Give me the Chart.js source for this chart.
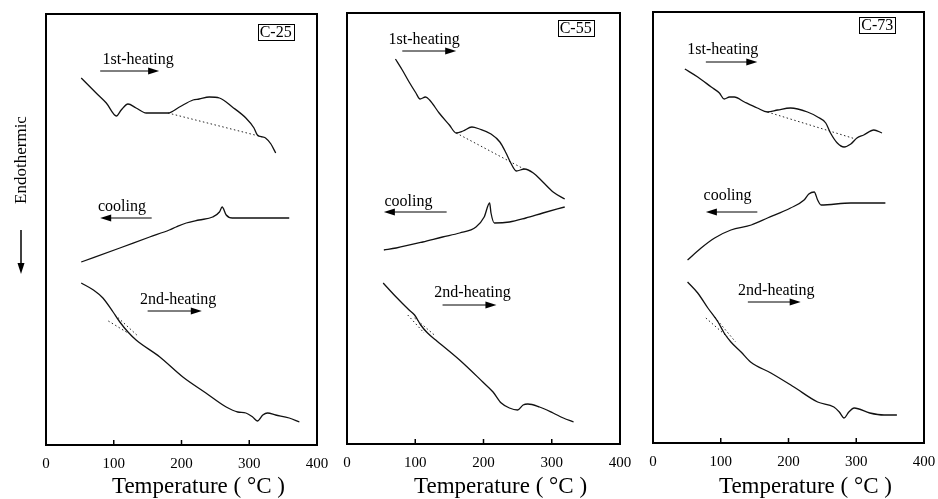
<!DOCTYPE html>
<html>
<head>
<meta charset="utf-8">
<title>DSC curves C-25 / C-55 / C-73</title>
<script src="https://cdn.jsdelivr.net/npm/chart.js@4.4.0/dist/chart.umd.min.js"></script>
<style>
  html, body { margin: 0; padding: 0; background: #fff; }
  body { width: 938px; height: 499px; position: relative; overflow: hidden; }
  canvas { position: absolute; top: 0; }
</style>
</head>
<body>
<canvas id="c25" width="339" height="499" style="left:0px"></canvas>
<canvas id="c55" width="320" height="499" style="left:322px"></canvas>
<canvas id="c73" width="318" height="499" style="left:628px"></canvas>
<script>
// x ticks (temperature, °C)
const tempTicks = [0, 100, 200, 300, 400];

// ---- C-25 ----  (heat flow in arbitrary units, endo down)
const c25Heat1T = [52, 74, 89, 104, 111, 121, 133, 148, 168, 180, 197, 217, 226, 241, 256, 275, 295, 307, 312, 320, 324, 332, 339];
const c25Heat1  = [367, 352, 342, 329, 335, 341, 337, 332, 332, 332, 338, 345, 346, 348, 347, 338, 327, 317, 310, 308, 307, 301, 292];
const c25BaseT  = [180, 320];
const c25Base   = [332, 308];
const c25CoolT  = [52, 109, 153, 182, 192, 207, 226, 246, 256, 260, 266, 275, 359];
const c25Cool   = [183, 197, 208, 215, 218, 222, 225, 228, 233, 238, 230, 227, 227];
const c25Heat2T = [52, 70, 84, 99, 109, 121, 133, 168, 202, 236, 266, 283, 295, 305, 312, 320, 327, 339, 359, 374];
const c25Heat2  = [162, 155, 147, 133, 123, 113, 105, 88, 68, 52, 38, 33, 32, 28, 24, 30, 32, 30, 27, 23];
const c25TanAT  = [92, 121];
const c25TanA   = [124, 112];
const c25TanBT  = [102, 134];
const c25TanB   = [130, 110];

// ---- C-55 ----
const c55Heat1T = [71, 81, 91, 101, 107, 115, 121, 135, 150, 160, 170, 183, 194, 211, 224, 233, 240, 248, 260, 273, 287, 302, 319];
const c55Heat1  = [385, 374, 362, 351, 345, 347, 344, 331, 319, 311, 313, 317, 315, 310, 302, 291, 281, 273, 275, 271, 262, 252, 245];
const c55BaseT  = [160, 262];
const c55Base   = [311, 274];
const c55CoolT  = [54, 72, 111, 140, 165, 189, 201, 209, 211, 216, 238, 262, 287, 319];
const c55Cool   = [194, 196, 202, 207, 211, 217, 227, 241, 231, 221, 222, 226, 231, 237];
const c55Heat2T = [53, 72, 91, 99, 108, 118, 130, 165, 199, 214, 226, 238, 250, 258, 265, 282, 302, 317, 332];
const c55Heat2  = [161, 147, 134, 129, 119, 111, 104, 84, 62, 52, 41, 36, 34, 39, 40, 37, 31, 26, 22];
const c55TanAT  = [89, 113];
const c55TanA   = [129, 111];
const c55TanBT  = [99, 128];
const c55TanB   = [126, 109];

// ---- C-73 ----
const c73Heat1T = [47, 66, 86, 98, 105, 113, 120, 135, 154, 169, 184, 203, 228, 243, 255, 262, 272, 282, 292, 301, 311, 326, 338];
const c73Heat1  = [374, 366, 356, 350, 344, 346, 346, 341, 335, 331, 333, 335, 331, 326, 320, 310, 300, 296, 299, 305, 308, 313, 310];
const c73BaseT  = [169, 299];
const c73Base   = [331, 304];
const c73CoolT  = [51, 71, 91, 115, 145, 169, 203, 223, 230, 238, 243, 248, 292, 343];
const c73Cool   = [183, 195, 205, 213, 218, 225, 235, 243, 249, 251, 243, 238, 240, 240];
const c73Heat2T = [51, 66, 81, 96, 105, 115, 130, 144, 174, 208, 243, 267, 275, 282, 289, 297, 320, 341, 360];
const c73Heat2  = [161, 150, 135, 121, 110, 101, 91, 81, 70, 56, 41, 36, 31, 25, 31, 35, 30, 28, 28];
const c73TanAT  = [78, 110];
const c73TanA   = [125, 106];
const c73TanBT  = [91, 122];
const c73TanB   = [126, 101];

const FONT = '"Liberation Serif", "Times New Roman", serif';
const X_TITLE = 'Temperature ( °C )';

function zip(xs, ys) {
    return xs.map((t, i) => ({x: t, y: ys[i]}));
}

function curve(xs, ys) {
    return {data: zip(xs, ys), borderColor: '#111', borderWidth: 1.3, pointRadius: 0,
            cubicInterpolationMode: 'monotone'};
}

function dotted(xs, ys) {
    return {data: zip(xs, ys), borderColor: '#222', borderWidth: 1, pointRadius: 0,
            borderDash: [1.5, 2.5], tension: 0};
}

// straight arrow with a filled head at (x1, y1), horizontal or vertical
function arrow(ctx, x0, y0, x1, y1) {
    const len = Math.hypot(x1 - x0, y1 - y0) || 1;
    const ux = (x1 - x0) / len, uy = (y1 - y0) / len;
    ctx.beginPath();
    ctx.moveTo(x0, y0);
    ctx.lineTo(x1 - ux * 8, y1 - uy * 8);
    ctx.stroke();
    ctx.beginPath();
    ctx.moveTo(x1, y1);
    ctx.lineTo(x1 - ux * 11 - uy * 3.5, y1 - uy * 11 + ux * 3.5);
    ctx.lineTo(x1 - ux * 11 + uy * 3.5, y1 - uy * 11 - ux * 3.5);
    ctx.closePath();
    ctx.fill();
}

// frame, inner ticks, curve labels, sample tag, axis caption
const dscDecor = {
    id: 'dscDecor',
    afterDatasetsDraw(chart, args, opts) {
        const {ctx, chartArea: a} = chart;
        const x = chart.scales.x, y = chart.scales.y;
        ctx.save();
        ctx.strokeStyle = '#000';
        ctx.fillStyle = '#000';
        ctx.lineWidth = 2;
        ctx.strokeRect(a.left, a.top, a.right - a.left, a.bottom - a.top);
        ctx.lineWidth = 1.5;
        tempTicks.slice(1, -1).forEach(t => {
            const px = x.getPixelForValue(t);
            ctx.beginPath();
            ctx.moveTo(px, a.bottom);
            ctx.lineTo(px, a.bottom - 5);
            ctx.stroke();
        });

        ctx.font = '16px ' + FONT;
        ctx.textAlign = 'center';
        ctx.textBaseline = 'middle';
        opts.labels.forEach(l => ctx.fillText(l.text, x.getPixelForValue(l.t), y.getPixelForValue(l.v)));

        ctx.lineWidth = 1;
        opts.arrows.forEach(r => {
            const py = y.getPixelForValue(r.v);
            arrow(ctx, x.getPixelForValue(r.from), py, x.getPixelForValue(r.to), py);
        });

        // sample tag in a box
        const tx = x.getPixelForValue(opts.tag.t), ty = y.getPixelForValue(opts.tag.v);
        const w = ctx.measureText(opts.tag.text).width;
        ctx.fillText(opts.tag.text, tx, ty + 1);
        ctx.strokeRect(Math.round(tx - w / 2 - 2) + 0.5, Math.round(ty - 8) + 0.5, Math.round(w + 4), 16);

        // x caption sits a bit right of the panel centre in the original
        ctx.font = '23px ' + FONT;
        ctx.fillText(X_TITLE, x.getPixelForValue(225), chart.height - 12);

        // y-axis caption on the first panel only
        if (opts.side) {
            const sx = a.left - 24;
            ctx.save();
            ctx.font = '17px ' + FONT;
            ctx.translate(sx, y.getPixelForValue(opts.side.v));
            ctx.rotate(-Math.PI / 2);
            ctx.fillText(opts.side.text, 0, 0);
            ctx.restore();
            ctx.lineWidth = 1.5;
            arrow(ctx, sx - 1, y.getPixelForValue(opts.side.from), sx - 1, y.getPixelForValue(opts.side.to));
        }
        ctx.restore();
    }
};

function makePanel(id, datasets, notes, pad) {
    return new Chart(document.getElementById(id), {
        type: 'line',
        data: {datasets: datasets},
        plugins: [dscDecor],
        options: {
            responsive: false,
            animation: false,
            events: [],
            // right padding = half of "400" + tick padding, so the frame ends where the reference does
            layout: {padding: {left: pad.left, right: 22, top: pad.top, bottom: 0}},
            plugins: {
                legend: {display: false},
                tooltip: {enabled: false},
                dscDecor: notes
            },
            scales: {
                x: {
                    type: 'linear', min: 0, max: 400,
                    afterBuildTicks: s => { s.ticks = tempTicks.map(v => ({value: v})); },
                    ticks: {color: '#000', padding: 10, maxRotation: 0, font: {family: FONT, size: 15}},
                    grid: {display: false, drawTicks: false},
                    border: {display: false},
                    afterFit: s => { s.height = pad.axis; }
                },
                y: {display: false, min: 0, max: 431}
            }
        }
    });
}

makePanel('c25', [
    curve(c25Heat1T, c25Heat1), dotted(c25BaseT, c25Base),
    curve(c25CoolT, c25Cool),
    curve(c25Heat2T, c25Heat2), dotted(c25TanAT, c25TanA), dotted(c25TanBT, c25TanB)
], {
    labels: [{text: '1st-heating', t: 136, v: 385}, {text: 'cooling', t: 112, v: 238}, {text: '2nd-heating', t: 195, v: 145}],
    arrows: [{from: 80, to: 167, v: 374}, {from: 156, to: 80, v: 227}, {from: 150, to: 230, v: 134}],
    tag: {text: 'C-25', t: 339, v: 413},
    side: {text: 'Endothermic', v: 285, from: 215, to: 171}
}, {left: 46, top: 14, axis: 54});

makePanel('c55', [
    curve(c55Heat1T, c55Heat1), dotted(c55BaseT, c55Base),
    curve(c55CoolT, c55Cool),
    curve(c55Heat2T, c55Heat2), dotted(c55TanAT, c55TanA), dotted(c55TanBT, c55TanB)
], {
    labels: [{text: '1st-heating', t: 113, v: 404}, {text: 'cooling', t: 90, v: 242}, {text: '2nd-heating', t: 184, v: 151}],
    arrows: [{from: 81, to: 160, v: 393}, {from: 146, to: 54, v: 232}, {from: 140, to: 219, v: 139}],
    tag: {text: 'C-55', t: 335, v: 416}
}, {left: 25, top: 13, axis: 55});

makePanel('c73', [
    curve(c73Heat1T, c73Heat1), dotted(c73BaseT, c73Base),
    curve(c73CoolT, c73Cool),
    curve(c73Heat2T, c73Heat2), dotted(c73TanAT, c73TanA), dotted(c73TanBT, c73TanB)
], {
    labels: [{text: '1st-heating', t: 103, v: 393}, {text: 'cooling', t: 110, v: 247}, {text: '2nd-heating', t: 182, v: 152}],
    arrows: [{from: 78, to: 154, v: 381}, {from: 154, to: 78, v: 231}, {from: 140, to: 218, v: 141}],
    tag: {text: 'C-73', t: 331, v: 418}
}, {left: 25, top: 12, axis: 56});
</script>
</body>
</html>
